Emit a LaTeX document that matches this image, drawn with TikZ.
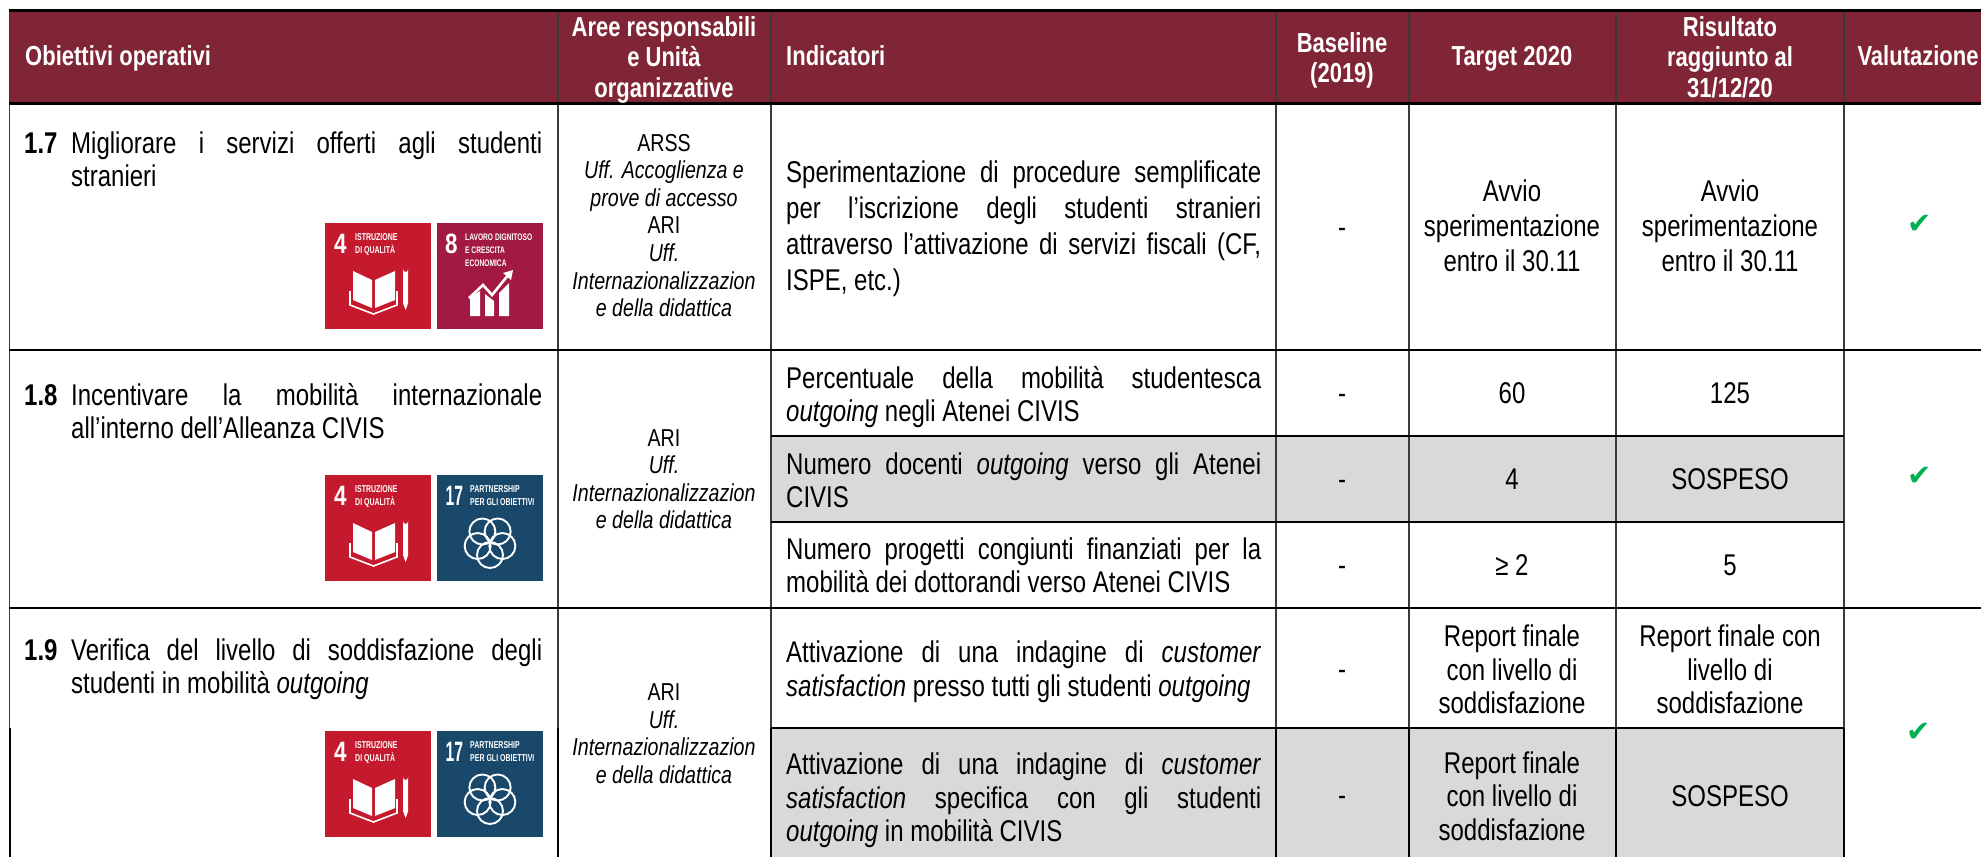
\documentclass[tikz,border=0pt]{standalone}
\usepackage{fontspec}
\setmainfont[FakeStretch=0.8]{Liberation Sans}
\newfontfamily\iconfont[FakeStretch=0.7]{Liberation Sans}
\newfontfamily\numnarrow[FakeStretch=0.56]{Liberation Sans}
\newfontfamily\checkfont{DejaVu Sans}
\definecolor{hdrred}{HTML}{7F2535}
\definecolor{cellgrey}{HTML}{D9D9D9}
\definecolor{rulegrey}{HTML}{3A3A3A}
\definecolor{sdgfour}{HTML}{C5192D}
\definecolor{sdgeight}{HTML}{A21942}
\definecolor{sdgseventeen}{HTML}{19486A}
\definecolor{okgreen}{HTML}{00B050}
\newcommand\bodyf[1]{\fontsize{30}{#1}\selectfont}
\newcommand\headf{\fontsize{27.5}{30.5}\selectfont\bfseries}
\newcommand\areaf{\fontsize{24.5}{27.6}\selectfont}
\tolerance=9999
\hbadness=10000
\hfuzz=40pt
\tikzset{
  x=1pt,y=-1pt,
  hdrline/.style={text=white,anchor=base,inner sep=0pt,font=\headf},
  hdrblock/.style={text=white,anchor=north,inner sep=0pt,font=\headf,align=center,execute at begin node=\strut},
  cellone/.style={anchor=base,inner sep=0pt,font=\bodyf{34}},
  cellblock/.style={anchor=north,inner sep=0pt,font=\bodyf{#1},align=center,execute at begin node=\strut},
  areablock/.style={anchor=north,inner sep=0pt,font=\areaf,align=center,execute at begin node=\strut},
  numlabel/.style={anchor=base west,inner sep=0pt,font=\bodyf{34}\bfseries},
  objtext/.style={anchor=north west,inner sep=0pt,text width=471pt,align=justify,font=\bodyf{33},execute at begin node=\strut},
  indtext/.style={anchor=north west,inner sep=0pt,text width=475pt,align=justify,font=\bodyf{#1},execute at begin node=\strut},
  okmark/.style={inner sep=0pt,text=okgreen,font=\checkfont\fontsize{29}{29}\selectfont},
  thinrule/.style={draw=rulegrey,line width=1.4pt},
  heavyrule/.style={draw=black,line width=2.4pt},
  inkrule/.style={draw=black,line width=2pt},
  icontitle/.style={text=white,anchor=base west,inner sep=0pt,font=\iconfont\fontsize{10}{10}\selectfont\bfseries},
  iconnum/.style={text=white,anchor=base west,inner sep=0pt,font=\fontsize{28}{28}\selectfont\bfseries},
  icon4/.pic={
    \fill[sdgfour] (0,0) rectangle (106,106);
    \node[iconnum] (num) at (9,30) {4};
    \node[icontitle] (ta) at (30,17) {ISTRUZIONE};
    \node[icontitle] (tb) at (30,30) {DI QUALITÀ};
    \fill[white] (28,48) -- (47,57) -- (47,85) -- (28,77) -- cycle;
    \fill[white] (50,57) -- (70,48) -- (70,77) -- (50,85) -- cycle;
    \draw[white,line width=1.6pt] (25,68) -- (25,82) -- (48.5,91) -- (72,82) -- (72,68);
    \fill[white] (78,46) arc[start angle=180,end angle=360,x radius=2.6,y radius=-3] -- (83.2,80) -- (80.6,87) -- (78,80) -- cycle;
  },
  icon8/.pic={
    \fill[sdgeight] (0,0) rectangle (106,106);
    \node[iconnum] (num) at (8,30) {8};
    \begin{scope}[icontitle/.append style={font=\iconfont\fontsize{9.5}{10}\selectfont\bfseries}]
    \node[icontitle] (ta) at (28,17) {LAVORO DIGNITOSO};
    \node[icontitle] (tb) at (28,30) {E CRESCITA};
    \node[icontitle] (tc) at (28,43) {ECONOMICA};
    \end{scope}
    \fill[white] (33,74) -- (43,68) -- (43,93) -- (33,93) -- cycle;
    \fill[white] (48,71) -- (57,78) -- (57,93) -- (48,93) -- cycle;
    \fill[white] (62,70) -- (72,60) -- (72,93) -- (62,93) -- cycle;
    \draw[white,line width=2.6pt] (32,75) -- (46,62) -- (55,72) -- (72,51);
    \fill[white] (76,47) -- (74,57) -- (66,50) -- cycle;
  },
  icon17/.pic={
    \fill[sdgseventeen] (0,0) rectangle (106,106);
    \node[iconnum,font=\numnarrow\fontsize{28}{28}\selectfont\bfseries] (num) at (8.5,30) {17};
    \node[icontitle] (ta) at (33,17) {PARTNERSHIP};
    \node[icontitle] (tb) at (33,30) {PER GLI OBIETTIVI};
    \foreach \a in {90,162,234,306,18}
      \draw[white,line width=1.9pt] (53,67) ++(\a:13) circle[radius=13];
  },
}
\begin{document}
\begin{tikzpicture}
\useasboundingbox (0,0) rectangle (1981,857);
\fill[white] (0,0) rectangle (1981,857);
% fills
\fill[hdrred] (9.5,10) rectangle (1981,103);
\fill[cellgrey] (771,436) rectangle (1844,522);
\fill[cellgrey] (771,728) rectangle (1844,857);
% vertical rules
\foreach \x in {9.5,558,771,1276,1409,1616,1844}
  \draw[thinrule] (\x,10) -- (\x,857);
\foreach \x in {558,771,1276,1409,1616,1844}
  \draw[inkrule] (\x,728) -- (\x,857);
\draw[inkrule] (9.5,728) -- (9.5,857);
% horizontal rules
\draw[draw=black,line width=3pt] (8.8,10) -- (1981,10);
\draw[draw=black,line width=3pt] (8.8,103) -- (1981,103);
\draw[heavyrule] (8.8,350) -- (1981,350);
\draw[heavyrule] (8.8,608) -- (1981,608);
\draw[inkrule] (771,436) -- (1844,436);
\draw[inkrule] (771,522) -- (1844,522);
\draw[inkrule] (771,728) -- (1844,728);
% header
\node[hdrline,anchor=base west] (hobj) at (25,65) {Obiettivi operativi};
\node[hdrblock] (hare) at (664,16) {Aree responsabili\\e Unità\\organizzative};
\node[hdrline,anchor=base west] (hind) at (786,65) {Indicatori};
\node[hdrblock] (hbas) at (1342,32) {Baseline\\(2019)};
\node[hdrline] (htar) at (1512,65) {Target 2020};
\node[hdrblock] (hris) at (1730,16) {Risultato\\raggiunto al\\31/12/20};
\node[hdrline] (hval) at (1918,65) {Valutazione};
% row 1.7
\node[numlabel] (n17) at (24,153) {1.7};
\node[objtext] (o17) at (71,130) {Migliorare i servizi offerti agli studenti\linebreak stranieri};
\pic (ia) at (325,223) {icon4};
\pic (ib) at (437,223) {icon8};
\node[areablock] (a17) at (664,133.7) {ARSS\\\textit{Uff. Accoglienza e}\\\textit{prove di accesso}\\ARI\\\textit{Uff.}\\\textit{Internazionalizzazion}\\\textit{e della didattica}};
\node[indtext=36] (i17) at (786,157) {Sperimentazione di procedure semplificate\linebreak per l’iscrizione degli studenti stranieri\linebreak attraverso l’attivazione di servizi fiscali (CF,\linebreak ISPE, etc.)};
\node[cellone] (b17) at (1342,237) {-};
\node[cellblock=35] (t17) at (1512,180) {Avvio\\sperimentazione\\entro il 30.11};
\node[cellblock=35] (r17) at (1730,180) {Avvio\\sperimentazione\\entro il 30.11};
\node[okmark] (c17) at (1920,224) {✔};
% row 1.8
\node[numlabel] (n18) at (24,405) {1.8};
\node[objtext] (o18) at (71,382) {Incentivare la mobilità internazionale\linebreak all’interno dell’Alleanza CIVIS};
\pic (ic) at (325,475) {icon4};
\pic (id) at (437,475) {icon17};
\node[areablock] (a18) at (664,429) {ARI\\\textit{Uff.}\\\textit{Internazionalizzazion}\\\textit{e della didattica}};
\node[indtext=33] (i18a) at (786,365) {Percentuale della mobilità studentesca\linebreak \textit{outgoing} negli Atenei CIVIS};
\node[cellone] (b18a) at (1342,403) {-};
\node[cellone] (t18a) at (1512,403) {60};
\node[cellone] (r18a) at (1730,403) {125};
\node[indtext=33] (i18b) at (786,451) {Numero docenti \textit{outgoing} verso gli Atenei\linebreak CIVIS};
\node[cellone] (b18b) at (1342,489) {-};
\node[cellone] (t18b) at (1512,489) {4};
\node[cellone] (r18b) at (1730,489) {SOSPESO};
\node[indtext=33] (i18c) at (786,536) {Numero progetti congiunti finanziati per la\linebreak mobilità dei dottorandi verso Atenei CIVIS};
\node[cellone] (b18c) at (1342,575) {-};
\node[cellone] (t18c) at (1512,575) {≥ 2};
\node[cellone] (r18c) at (1730,575) {5};
\node[okmark] (c18) at (1920,476) {✔};
% row 1.9
\node[numlabel] (n19) at (24,660) {1.9};
\node[objtext] (o19) at (71,636.9) {Verifica del livello di soddisfazione degli\linebreak studenti in mobilità \textit{outgoing}};
\pic (ie) at (325,731) {icon4};
\pic (if) at (437,731) {icon17};
\node[areablock] (a19) at (664,683.7) {ARI\\\textit{Uff.}\\\textit{Internazionalizzazion}\\\textit{e della didattica}};
\node[indtext=34] (i19a) at (786,638) {Attivazione di una indagine di \textit{customer}\linebreak \textit{satisfaction} presso tutti gli studenti \textit{outgoing}};
\node[cellone] (b19a) at (1342,679) {-};
\node[cellblock=33.5] (t19a) at (1512,625) {Report finale\\con livello di\\soddisfazione};
\node[cellblock=33.5] (r19a) at (1730,625) {Report finale con\\livello di\\soddisfazione};
\node[indtext=33.5] (i19b) at (786,751) {Attivazione di una indagine di \textit{customer}\linebreak \textit{satisfaction} specifica con gli studenti\linebreak \textit{outgoing} in mobilità CIVIS};
\node[cellone] (b19b) at (1342,805) {-};
\node[cellblock=33.5] (t19b) at (1512,751.5) {Report finale\\con livello di\\soddisfazione};
\node[cellone] (r19b) at (1730,806) {SOSPESO};
\node[okmark] (c19) at (1919,732) {✔};
\end{tikzpicture}
\end{document}
